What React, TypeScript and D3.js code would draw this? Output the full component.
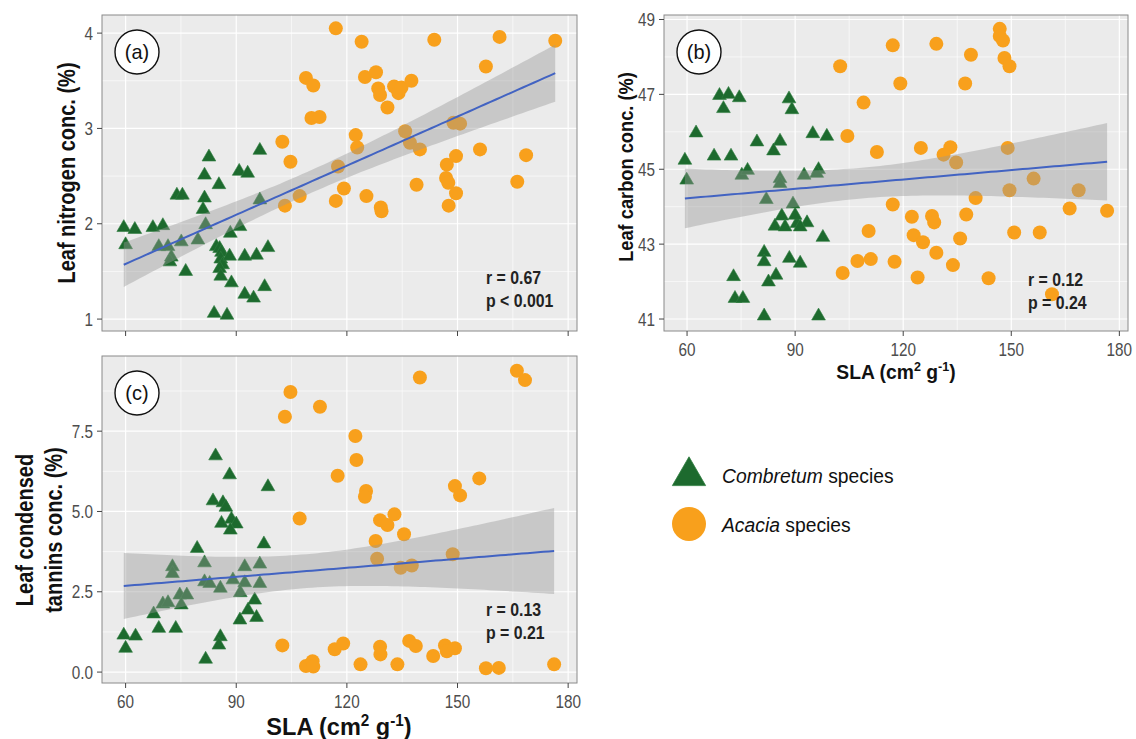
import * as d3 from 'd3';

// SLA (cm2 g-1) vs leaf traits
const combretumN = [
  [59.5, 1.96], [62.5, 1.94], [60, 1.78], [67.4, 1.96], [70.1, 1.98], [73.9, 2.3], [75.4, 2.3],
  [69, 1.76], [71.5, 1.76], [72.4, 1.65], [72, 1.6], [75.1, 1.81], [76.3, 1.5], [79.6, 1.83],
  [81.7, 1.99], [81.4, 2.27], [81, 2.15], [81.4, 2.51], [82.6, 2.7], [85.3, 2.41], [84.6, 1.76],
  [85.5, 1.74], [86, 1.7], [85.8, 1.63], [86.3, 1.57], [85.5, 1.53], [85.8, 1.45], [88.7, 1.38],
  [88.2, 1.66], [88.4, 1.9], [91, 1.97], [90.8, 2.55], [93.1, 2.53], [96.4, 2.77], [96.4, 2.25],
  [92.3, 1.66], [95.5, 1.67], [98.6, 1.75], [97.7, 1.34], [92.3, 1.26], [94.7, 1.22], [84, 1.06],
  [87.5, 1.04]
];
const acaciaN = [
  [117, 4.05], [124, 3.91], [143.7, 3.93], [161.4, 3.96], [176.5, 3.92], [157.7, 3.65], [108.9, 3.53],
  [110.9, 3.45], [124.9, 3.54], [127.9, 3.59], [128.5, 3.42], [129, 3.35], [132.8, 3.44], [134, 3.37],
  [134.8, 3.43], [137.5, 3.5], [131, 3.22], [110.4, 3.11], [112.6, 3.12], [102.5, 2.86], [122.4, 2.93],
  [122.8, 2.8], [135.8, 2.97], [137.1, 2.85], [139.8, 2.78], [148.9, 3.06], [150.7, 3.05], [104.7, 2.65],
  [117.6, 2.6], [149.6, 2.71], [147.1, 2.62], [156.1, 2.78], [168.6, 2.72], [107.2, 2.29], [103.2, 2.19],
  [119.2, 2.37], [117, 2.24], [125.3, 2.29], [129.2, 2.17], [129.4, 2.13], [138.9, 2.41], [146.9, 2.48],
  [147.5, 2.43], [149.6, 2.32], [147.6, 2.19], [166.2, 2.44]
];

const combretumC = [
  [69, 46.97], [71.5, 47.0], [74.5, 46.91], [70.1, 46.62], [88.3, 46.88], [89.1, 46.59], [62.5, 45.97],
  [94.9, 45.95], [98.8, 45.88], [79.4, 45.73], [85.8, 45.75], [84, 45.49], [59.4, 45.24], [67.5, 45.35],
  [72.2, 45.35], [59.9, 44.71], [75.2, 44.84], [76.8, 44.97], [85.8, 44.75], [85.8, 44.62], [92.5, 44.84],
  [96.5, 44.99], [96, 44.89], [82, 44.19], [89.4, 44.07], [86.3, 43.75], [84.4, 43.48], [87.2, 43.46],
  [90.5, 43.55], [90, 43.77], [93.3, 43.57], [91.4, 43.46], [97.7, 43.18], [81.4, 42.78], [81.4, 42.53],
  [88.4, 42.62], [91.4, 42.49], [72.9, 42.13], [84.7, 42.17], [82.6, 41.99], [73.3, 41.55], [75.5, 41.55],
  [81.4, 41.08], [96.5, 41.08]
];
const acaciaC = [
  [146.8, 48.75], [146.8, 48.56], [147.7, 48.44], [148.1, 47.97], [149.5, 47.75], [117.1, 48.31],
  [129.2, 48.35], [138.8, 48.06], [102.5, 47.75], [119.2, 47.29], [137.2, 47.29], [109, 46.78],
  [104.5, 45.89], [112.7, 45.46], [124.9, 45.57], [133.1, 45.59], [131.2, 45.39], [134.7, 45.18],
  [149, 45.57], [156.2, 44.75], [149.5, 44.44], [168.7, 44.44], [140.1, 44.23], [117.1, 44.06],
  [166.2, 43.95], [176.6, 43.89], [122.4, 43.73], [128, 43.75], [128.6, 43.58], [137.5, 43.79],
  [110.4, 43.35], [122.9, 43.24], [125.5, 43.05], [135.8, 43.15], [150.8, 43.31], [157.9, 43.31],
  [129.2, 42.77], [107.3, 42.55], [111, 42.6], [117.6, 42.53], [133.8, 42.44], [103.2, 42.23],
  [124, 42.11], [143.7, 42.09], [161.3, 41.66]
];

const combretumT = [
  [84.4, 6.73], [88.2, 6.14], [98.6, 5.77], [83.7, 5.33], [86.4, 5.27], [87.2, 5.13], [86, 4.63],
  [88.7, 4.76], [90, 4.61], [88.4, 4.42], [79.4, 3.85], [97.5, 3.99], [72.7, 3.28], [72.7, 3.07],
  [81.4, 3.4], [92.3, 3.28], [96.4, 3.36], [81.4, 2.81], [82.8, 2.76], [85.7, 2.61], [89.1, 2.87],
  [92.3, 2.78], [96.4, 2.76], [91.1, 2.47], [74.7, 2.4], [76.6, 2.4], [70.1, 2.12], [71.5, 2.16],
  [75.1, 2.09], [95, 2.24], [93.2, 1.93], [67.6, 1.81], [91, 1.62], [95.5, 1.7], [69, 1.36],
  [73.6, 1.36], [59.5, 1.15], [62.7, 1.12], [60, 0.74], [85.7, 1.1], [85.3, 0.84], [81.7, 0.4]
];
const acaciaT = [
  [104.7, 8.72], [103.2, 7.95], [112.7, 8.26], [139.8, 9.17], [166.1, 9.38], [168.3, 9.09],
  [122.3, 7.35], [122.6, 6.6], [117.5, 6.11], [125.2, 5.64], [124.9, 5.46], [149.3, 5.79],
  [150.7, 5.5], [155.9, 6.03], [107.2, 4.78], [129, 4.73], [131, 4.58], [132.9, 4.91], [135.5, 4.29],
  [127.8, 4.08], [128.2, 3.53], [148.7, 3.67], [134.6, 3.25], [137.6, 3.32], [102.5, 0.83],
  [108.9, 0.19], [110.7, 0.34], [110.9, 0.17], [116.7, 0.71], [119, 0.89], [123.7, 0.24], [129, 0.79],
  [129.1, 0.55], [133.7, 0.24], [136.9, 0.97], [138.7, 0.81], [143.4, 0.5], [146.6, 0.83],
  [147.1, 0.65], [149.3, 0.74], [157.7, 0.12], [161.2, 0.13], [176.2, 0.24]
];

// fitted line end points as printed (SLA, fitted value)
const fitN = [[59.5, 1.57], [176.5, 3.58]];
const fitC = [[59.4, 44.22], [176.6, 45.2]];
const fitT = [[59.5, 2.68], [176.2, 3.77]];

const xTicks = [60, 90, 120, 150, 180];
const xMinor = [75, 105, 135, 165];
const nTicks = [1, 2, 3, 4];
const nMinor = [1.5, 2.5, 3.5];
const cTicks = [41, 43, 45, 47, 49];
const cMinor = [42, 44, 46, 48];
const tTicks = [0, 2.5, 5, 7.5];
const tMinor = [1.25, 3.75, 6.25, 8.75];

const FONT = '"Liberation Sans", Arial, sans-serif';
const GREEN = '#1d6a2e';
const ORANGE = '#f8a01c';
const BAND = '#999999';
const LINE = '#4263c2';

// confidence band around the printed line, width from the residual spread of the points
function fitBand(points, ends, steps = 80) {
  const n = points.length;
  const [[xa, ya], [xb, yb]] = ends;
  const b = (yb - ya) / (xb - xa);
  const a = ya - b * xa;
  const mx = d3.mean(points, (d) => d[0]);
  const sxx = d3.sum(points, (d) => (d[0] - mx) ** 2);
  const s = Math.sqrt(d3.sum(points, (d) => (d[1] - a - b * d[0]) ** 2) / (n - 2));
  const t = 1.98;
  return d3.range(steps + 1).map((i) => {
    const x = xa + ((xb - xa) * i) / steps;
    const y = a + b * x;
    const se = s * Math.sqrt(1 / n + (x - mx) ** 2 / sxx);
    return { x, y, y0: y - t * se, y1: y + t * se };
  });
}

const intFmt = (v) => String(v);
const oneDec = d3.format('.1f');

function HText({ x, y, sx = 0.87, size = 17, weight = 'normal', anchor = 'start', fill = '#222', children }) {
  return (
    <text
      transform={`translate(${x},${y}) scale(${sx},1)`}
      fontFamily={FONT}
      fontSize={size}
      fontWeight={weight}
      textAnchor={anchor}
      fill={fill}
    >
      {children}
    </text>
  );
}

function VText({ x, y, sx = 0.87, size = 23, children }) {
  return (
    <text
      transform={`translate(${x},${y}) rotate(-90) scale(${sx},1)`}
      fontFamily={FONT}
      fontSize={size}
      fontWeight="bold"
      textAnchor="middle"
      fill="#111"
    >
      {children}
    </text>
  );
}

function Panel({ box, yDomain, yTicks, yMinor, yFormat, combretum, acacia, fitEnds, label, stats, statsX, statsY, showXLabels }) {
  const x = d3.scaleLinear().domain([53.6, 182.4]).range([box.left, box.right]);
  const y = d3.scaleLinear().domain(yDomain).range([box.bottom, box.top]);
  const fit = fitBand(combretum.concat(acacia), fitEnds);
  const area = d3.area().x((d) => x(d.x)).y0((d) => y(d.y0)).y1((d) => y(d.y1));
  const line = d3.line().x((d) => x(d.x)).y((d) => y(d.y));
  const tri = d3.symbol(d3.symbolTriangle, 82)();

  return (
    <g>
      <rect x={box.left} y={box.top} width={box.right - box.left} height={box.bottom - box.top} fill="#ebebeb" />
      {xMinor.map((v) => (
        <line key={'xm' + v} x1={x(v)} x2={x(v)} y1={box.top} y2={box.bottom} stroke="#fff" strokeWidth={0.6} />
      ))}
      {yMinor.map((v) => (
        <line key={'ym' + v} x1={box.left} x2={box.right} y1={y(v)} y2={y(v)} stroke="#fff" strokeWidth={0.6} />
      ))}
      {xTicks.map((v) => (
        <line key={'xg' + v} x1={x(v)} x2={x(v)} y1={box.top} y2={box.bottom} stroke="#fff" strokeWidth={1.2} />
      ))}
      {yTicks.map((v) => (
        <line key={'yg' + v} x1={box.left} x2={box.right} y1={y(v)} y2={y(v)} stroke="#fff" strokeWidth={1.2} />
      ))}

      {acacia.map((d, i) => (
        <circle key={'a' + i} cx={x(d[0])} cy={y(d[1])} r={7} fill={ORANGE} />
      ))}
      {combretum.map((d, i) => (
        <path key={'c' + i} d={tri} transform={`translate(${x(d[0])},${y(d[1])})`} fill={GREEN} stroke="#2f7d3f" strokeWidth={0.6} />
      ))}

      <path d={area(fit)} fill={BAND} fillOpacity={0.42} />
      <path d={line(fit)} fill="none" stroke={LINE} strokeWidth={2} />

      <circle cx={box.left + 35} cy={box.top + 37} r={22} fill="#fff" stroke="#111" strokeWidth={1.4} />
      <HText x={box.left + 35} y={box.top + 44} size={21} sx={0.95} anchor="middle" fill="#111">{label}</HText>

      {stats.map((s, i) => (
        <HText key={s} x={statsX} y={statsY + i * 23} size={18} weight="bold" sx={0.88} fill="#222">{s}</HText>
      ))}

      <rect x={box.left} y={box.top} width={box.right - box.left} height={box.bottom - box.top} fill="none" stroke="#8a8a8a" strokeWidth={1} />

      {xTicks.map((v) => (
        <line key={'xt' + v} x1={x(v)} x2={x(v)} y1={box.bottom} y2={box.bottom + 5} stroke="#444" strokeWidth={1} />
      ))}
      {showXLabels &&
        xTicks.map((v) => (
          <HText key={'xl' + v} x={x(v)} y={box.bottom + 25} anchor="middle" fill="#4d4d4d" size={18} sx={0.85}>{intFmt(v)}</HText>
        ))}
      {yTicks.map((v) => (
        <g key={'yt' + v}>
          <line x1={box.left - 5} x2={box.left} y1={y(v)} y2={y(v)} stroke="#444" strokeWidth={1} />
          <HText x={box.left - 9} y={y(v) + 6.5} anchor="end" fill="#4d4d4d" size={18} sx={0.85}>{yFormat(v)}</HText>
        </g>
      ))}
    </g>
  );
}

function SlaTitle({ x, y, size, sx }) {
  return (
    <HText x={x} y={y} size={size} weight="bold" anchor="middle" sx={sx} fill="#111">
      <tspan>SLA (cm</tspan>
      <tspan fontSize={size * 0.65} dy={-size * 0.38}>2</tspan>
      <tspan dy={size * 0.38}> g</tspan>
      <tspan fontSize={size * 0.65} dy={-size * 0.38}>-1</tspan>
      <tspan dy={size * 0.38}>)</tspan>
    </HText>
  );
}

export default function App() {
  const boxA = { left: 102, right: 577, top: 15, bottom: 331 };
  const boxB = { left: 664, right: 1128, top: 15, bottom: 331 };
  const boxC = { left: 102, right: 577, top: 356, bottom: 683 };
  const legendTri = d3.symbol(d3.symbolTriangle, 480)();

  return (
    <svg width={1136} height={739} style={{ position: 'absolute', left: 0, top: 0, background: '#fff' }}>
      <Panel
        box={boxA}
        yDomain={[0.875, 4.19]}
        yTicks={nTicks}
        yMinor={nMinor}
        yFormat={intFmt}
        combretum={combretumN}
        acacia={acaciaN}
        fitEnds={fitN}
        label="(a)"
        stats={['r = 0.67', 'p < 0.001']}
        statsX={486}
        statsY={284}
        showXLabels={false}
      />
      <Panel
        box={boxB}
        yDomain={[40.68, 49.12]}
        yTicks={cTicks}
        yMinor={cMinor}
        yFormat={intFmt}
        combretum={combretumC}
        acacia={acaciaC}
        fitEnds={fitC}
        label="(b)"
        stats={['r = 0.12', 'p = 0.24']}
        statsX={1028}
        statsY={286}
        showXLabels={true}
      />
      <Panel
        box={boxC}
        yDomain={[-0.34, 9.84]}
        yTicks={tTicks}
        yMinor={tMinor}
        yFormat={oneDec}
        combretum={combretumT}
        acacia={acaciaT}
        fitEnds={fitT}
        label="(c)"
        stats={['r = 0.13', 'p = 0.21']}
        statsX={486}
        statsY={616}
        showXLabels={true}
      />

      <VText x={75} y={173}>Leaf nitrogen conc. (%)</VText>
      <VText x={633} y={167} size={21}>Leaf carbon conc. (%)</VText>
      <VText x={33} y={530}>Leaf condensed</VText>
      <VText x={62} y={530}>tannins conc. (%)</VText>

      <SlaTitle x={896} y={379} size={21} sx={0.92} />
      <SlaTitle x={339} y={735} size={24} sx={0.98} />

      <path d={legendTri} transform="translate(689,476)" fill={GREEN} stroke="#2f7d3f" strokeWidth={0.8} />
      <HText x={722} y={483} size={21} sx={0.92} fill="#111">
        <tspan fontStyle="italic">Combretum</tspan> species
      </HText>
      <circle cx={689} cy={524} r={17} fill={ORANGE} />
      <HText x={722} y={532} size={21} sx={0.92} fill="#111">
        <tspan fontStyle="italic">Acacia</tspan> species
      </HText>
    </svg>
  );
}
